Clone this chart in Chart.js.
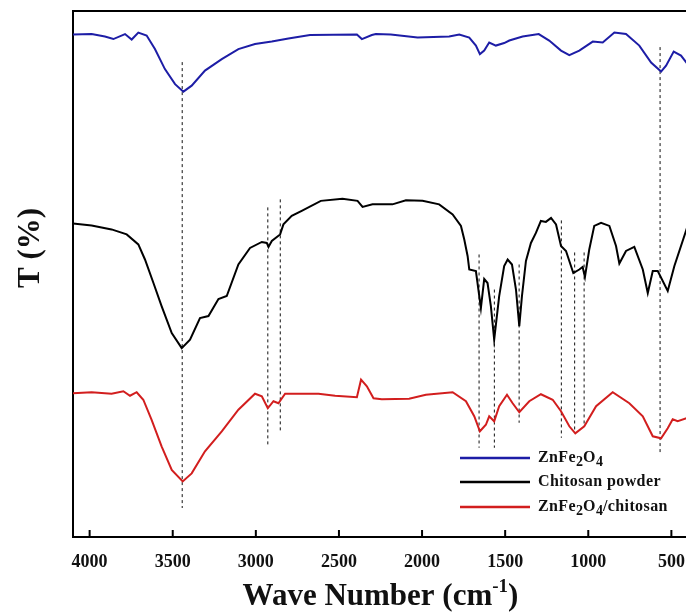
<!DOCTYPE html>
<html>
<head>
<meta charset="utf-8">
<script src="https://cdn.jsdelivr.net/npm/chart.js@4.4.1/dist/chart.umd.min.js"></script>
<style>
  html, body { margin: 0; padding: 0; background: #fff; overflow: hidden; }
  #wrap { width: 688px; height: 615px; position: relative; }
</style>
</head>
<body>
<div id="wrap"><canvas id="ftir"></canvas></div>
<script>
// wavenumbers (cm-1) and transmittance (offset, arbitrary units)
var labels = ['ZnFe2O4', 'Chitosan powder', 'ZnFe2O4/chitosan'];
var colors = ['#1d1da6', '#000000', '#d21e1e'];

var blueWn = [4100,3988,3908,3857,3787,3747,3707,3657,3607,3547,3486,3436,3386,3306,3205,3105,3005,2904,2804,2674,2392,2362,2302,2278,2188,2027,1837,1776,1716,1676,1652,1626,1596,1556,1506,1475,1395,1298,1235,1164,1114,1054,973,913,843,773,693,622,562,532,486,442,400];
var blueT = [100.3,100.4,99.9,99.4,100.4,99.3,100.7,100.1,97.4,93.4,90.4,88.9,90.1,93.1,95.4,97.4,98.4,98.9,99.5,100.2,100.3,99.4,100.2,100.4,100.3,99.7,99.9,100.3,99.7,98.1,96.4,97.1,98.7,98.1,98.6,99.1,99.9,100.4,99.1,97.1,96.2,97.1,98.9,98.7,100.7,100.4,98.1,94.7,92.9,94.1,96.9,96.1,94.3];

var blackWn = [4100,3988,3868,3777,3707,3667,3616,3567,3506,3446,3396,3336,3285,3225,3175,3105,3035,2964,2934,2924,2904,2854,2834,2784,2724,2609,2479,2388,2358,2298,2178,2097,1997,1897,1816,1766,1746,1726,1716,1676,1646,1626,1606,1586,1566,1536,1506,1485,1459,1435,1415,1399,1375,1345,1315,1285,1255,1224,1194,1164,1134,1090,1054,1034,1020,994,964,923,873,833,813,773,723,672,642,612,582,522,482,400];
var blackT = [62.6,62.2,61.4,60.4,58.4,55.4,50.7,46.1,40.7,37.7,39.4,43.7,44.1,47.5,48.1,54.4,57.7,58.9,58.7,57.9,59.1,60.4,62.4,64.1,65.1,67.1,67.5,67.1,65.9,66.4,66.4,67.2,67.1,66.4,64.4,62.1,59.4,56.1,53.4,53.1,45.7,51.5,50.7,46.1,39.4,48.1,54.1,55.4,54.4,49.4,42.1,48.1,55.1,58.7,60.7,63.1,62.9,63.7,62.4,58.1,57.1,52.7,53.4,53.9,51.9,57.4,62.1,62.7,62.1,58.1,54.6,57.1,57.9,53.4,48.7,53.1,53.1,49.1,54.1,62.3];

var redWn = [4100,3988,3868,3797,3757,3717,3677,3627,3567,3506,3440,3386,3306,3205,3105,3005,2964,2928,2894,2864,2824,2623,2523,2392,2367,2332,2292,2242,2078,1977,1816,1736,1686,1652,1616,1596,1566,1536,1489,1455,1415,1355,1285,1214,1164,1114,1078,1024,953,853,753,672,612,562,522,492,462,400];
var redT = [28.7,28.9,28.6,29.1,28.2,28.9,27.4,23.4,18.1,13.4,11.1,12.7,17.1,21.1,25.4,28.6,28.1,25.7,27.1,26.7,28.6,28.6,28.2,27.9,31.4,30.1,27.7,27.5,27.6,28.4,28.9,27.1,24.1,21.1,22.4,24.1,23.1,26.1,28.4,26.7,24.9,27.1,28.5,27.4,25.1,22.1,20.7,22.1,26.1,28.9,26.7,24.1,20.1,19.7,21.7,23.5,23.1,23.8];

// marked bands (dashed guides)
var peakWn = [3443, 2928, 2853, 1657, 1565, 1416, 1162, 1082, 1025, 568];
var peakTop = [94.8, 65.8, 67.4, 56.4, 49.4, 54.4, 63.2, 56.8, 56.8, 97.8];
var peakBottom = [5.8, 18, 21, 17.8, 17.8, 22.8, 19.8, 20.8, 22, 16.8];

var xTicks = [4000, 3500, 3000, 2500, 2000, 1500, 1000, 500];

function pts(xs, ys) {
    return xs.map(function (x, i) { return {x: x, y: ys[i]}; });
}

var datasets = [
    {label: labels[0], data: pts(blueWn, blueT), borderColor: colors[0]},
    {label: labels[1], data: pts(blackWn, blackT), borderColor: colors[1]},
    {label: labels[2], data: pts(redWn, redT), borderColor: colors[2]}
].map(function (d) {
    d.borderWidth = 2; d.pointRadius = 0; d.tension = 0; d.order = 0;
    return d;
});

peakWn.forEach(function (w, i) {
    datasets.push({
        label: 'band ' + w,
        data: [{x: w, y: peakTop[i]}, {x: w, y: peakBottom[i]}],
        borderColor: '#111', borderWidth: 1, borderDash: [3, 3],
        pointRadius: 0, order: 1
    });
});

var serif = "'Liberation Serif', 'Times New Roman', serif";

// draws text where digits after a letter become subscripts
function drawFormula(ctx, text, x, y, size) {
    for (var i = 0; i < text.length; i++) {
        var ch = text[i];
        var sub = /[0-9]/.test(ch) && i > 0 && /[A-Za-z]/.test(text[i - 1]);
        if (sub) {
            ctx.font = 'bold ' + Math.round(size * 0.85) + 'px ' + serif;
            ctx.fillText(ch, x, y + size * 0.25);
        } else {
            ctx.font = 'bold ' + size + 'px ' + serif;
            ctx.fillText(ch, x, y);
        }
        x += ctx.measureText(ch).width + (sub ? 0 : 0.4);
    }
}

var frame = {
    id: 'frame',
    afterDraw: function (chart) {
        var ctx = chart.ctx, a = chart.chartArea, xs = chart.scales.x;
        ctx.save();
        ctx.strokeStyle = '#000';
        ctx.lineWidth = 2;
        ctx.beginPath();
        ctx.moveTo(a.left, a.top); ctx.lineTo(a.right, a.top);
        ctx.lineTo(a.right, a.bottom);
        ctx.stroke();
        // inward ticks
        xTicks.forEach(function (v) {
            var px = xs.getPixelForValue(v);
            ctx.beginPath();
            ctx.moveTo(px, a.bottom); ctx.lineTo(px, a.bottom - 7);
            ctx.stroke();
        });
        ctx.fillStyle = '#111';
        ctx.textBaseline = 'middle';

        // x title with superscript
        var cx = (a.left + a.right) / 2, ty = 597;
        var p1 = 'Wave Number (cm', p2 = '-1', p3 = ')';
        ctx.font = 'bold 31px ' + serif;
        var w1 = ctx.measureText(p1).width, w3 = ctx.measureText(p3).width;
        ctx.font = 'bold 19px ' + serif;
        var w2 = ctx.measureText(p2).width;
        var x0 = cx - (w1 + w2 + w3) / 2;
        ctx.textAlign = 'left';
        ctx.font = 'bold 31px ' + serif;
        ctx.fillText(p1, x0, ty);
        ctx.font = 'bold 19px ' + serif;
        ctx.fillText(p2, x0 + w1, ty - 10);
        ctx.font = 'bold 31px ' + serif;
        ctx.fillText(p3, x0 + w1 + w2, ty);

        // y title
        ctx.font = 'bold 31px ' + serif;
        ctx.textAlign = 'center';
        ctx.translate(31, 248);
        ctx.rotate(-Math.PI / 2);
        ctx.fillText('T (%)', 0, 0);
        ctx.restore();

        // legend
        ctx.save();
        ctx.textAlign = 'left';
        ctx.textBaseline = 'middle';
        ctx.fillStyle = '#111';
        var rowY = [458, 482, 507];
        for (var k = 0; k < 3; k++) {
            var ds = chart.data.datasets[k];
            ctx.strokeStyle = ds.borderColor;
            ctx.lineWidth = 2.5;
            ctx.beginPath();
            ctx.moveTo(460, rowY[k]); ctx.lineTo(530, rowY[k]);
            ctx.stroke();
            drawFormula(ctx, ds.label, 538, rowY[k], 16);
        }
        ctx.restore();
    }
};

new Chart(document.getElementById('ftir'), {
    type: 'line',
    data: {datasets: datasets},
    options: {
        responsive: true,
        maintainAspectRatio: false,
        animation: false,
        layout: {padding: {left: 73, top: 11, right: 0, bottom: 0}},
        plugins: {legend: {display: false}, tooltip: {enabled: false}},
        scales: {
            x: {
                type: 'linear',
                reverse: true,
                min: 400,
                max: 4100,
                afterBuildTicks: function (s) {
                    s.ticks = xTicks.map(function (v) { return {value: v}; });
                },
                afterFit: function (s) {
                    s.height = 78;
                    s.paddingLeft = 0;
                    s.paddingRight = 0;
                },
                grid: {display: false},
                border: {display: true, color: '#000', width: 2},
                ticks: {
                    color: '#111', padding: 7, maxRotation: 0, autoSkip: false,
                    font: {family: serif, size: 18, weight: 'bold'},
                    callback: function (v) { return String(v); }
                }
            },
            y: {
                min: 0,
                max: 105,
                afterFit: function (s) { s.width = 0; },
                grid: {display: false},
                border: {display: true, color: '#000', width: 2},
                ticks: {display: false}
            }
        }
    },
    plugins: [frame]
});
</script>
</body>
</html>
